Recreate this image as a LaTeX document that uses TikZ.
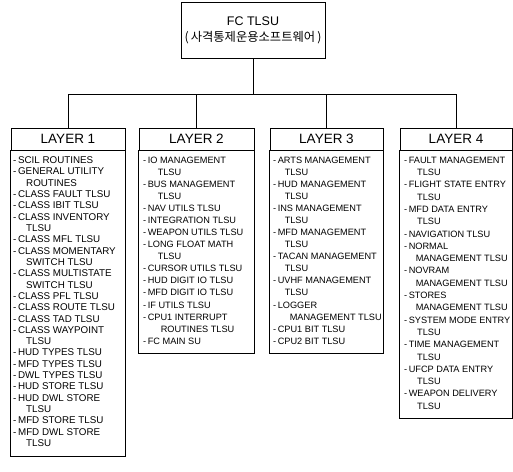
\documentclass[tikz,border=0pt]{standalone}
\usepackage{fontspec}
\setmainfont{Liberation Sans}
\newfontfamily\krfont{Noto Sans CJK KR}
% continuation line of a list entry, indented by the optional amount
\newcommand\cnt[1][13pt]{\hspace*{#1}}
\begin{document}
\begin{tikzpicture}[x=1pt,y=-1pt,
  frame/.style={draw=black,line width=0.9pt},
  headbox/.style={frame,minimum height=22pt,inner sep=0pt,
    font=\fontsize{13.5}{15}\selectfont},
  itemlist/.style={anchor=north west,align=left,inner sep=0pt},
  link/.style={line width=0.9pt}]
\useasboundingbox (0,0) rectangle (513,471);

% root module
\node[frame,minimum width=144pt,minimum height=56pt,inner sep=0pt,align=center,
      font=\fontsize{12.5}{16}\selectfont] (root) at (253,30)
  {FC TLSU\\{\krfont\fontsize{12.3}{16}\selectfont(\,사격통제운용소프트웨어\,)}};

% layer headers
\node[headbox,minimum width=114pt] (L1) at (68,139)    {LAYER 1};
\node[headbox,minimum width=115pt] (L2) at (196.5,139) {LAYER 2};
\node[headbox,minimum width=113pt] (L3) at (326.5,139) {LAYER 3};
\node[headbox,minimum width=112pt] (L4) at (456,139)   {LAYER 4};

% lower corners of the list boxes
\coordinate (B1) at (125,456);
\coordinate (B2) at (254,353);
\coordinate (B3) at (383,353);
\coordinate (B4) at (512,418);
\foreach \i in {1,...,4}{\draw[frame] (L\i.south west) rectangle (B\i);}

% tree connectors
\coordinate (bus) at (253,94);
\draw[link] (root.south) -- (bus);
\draw[link] (L1.north) -- (L1.north |- bus) -- (L4.north |- bus) -- (L4.north);
\draw[link] (L2.north) -- (L2.north |- bus);
\draw[link] (L3.north) -- (L3.north |- bus);

% layer 1 contents
\node[itemlist,font=\fontsize{9.8}{11.32}\selectfont] (T1) at (13,156.5) {%
-\,SCIL ROUTINES\\
-\,GENERAL UTILITY\\
\cnt ROUTINES\\
-\,CLASS FAULT TLSU\\
-\,CLASS IBIT TLSU\\
-\,CLASS INVENTORY\\
\cnt TLSU\\
-\,CLASS MFL TLSU\\
-\,CLASS MOMENTARY\\
\cnt SWITCH TLSU\\
-\,CLASS MULTISTATE\\
\cnt SWITCH TLSU\\
-\,CLASS PFL TLSU\\
-\,CLASS ROUTE TLSU\\
-\,CLASS TAD TLSU\\
-\,CLASS WAYPOINT\\
\cnt TLSU\\
-\,HUD TYPES TLSU\\
-\,MFD TYPES TLSU\\
-\,DWL TYPES TLSU\\
-\,HUD STORE TLSU\\
-\,HUD DWL STORE\\
\cnt TLSU\\
-\,MFD STORE TLSU\\
-\,MFD DWL STORE\\
\cnt TLSU};

% layer 2 contents
\node[itemlist,font=\fontsize{9.2}{12.07}\selectfont] (T2) at (143,156.6) {%
-\,IO MANAGEMENT\\
\cnt[12pt] TLSU\\
-\,BUS MANAGEMENT\\
\cnt[12pt] TLSU\\
-\,NAV UTILS TLSU\\
-\,INTEGRATION TLSU\\
-\,WEAPON UTILS TLSU\\
-\,LONG FLOAT MATH\\
\cnt[12pt] TLSU\\
-\,CURSOR UTILS TLSU\\
-\,HUD DIGIT IO TLSU\\
-\,MFD DIGIT IO TLSU\\
-\,IF UTILS TLSU\\
-\,CPU1 INTERRUPT\\
\cnt[15pt] ROUTINES TLSU\\
-\,FC MAIN SU};

% layer 3 contents
\node[itemlist,font=\fontsize{9.2}{12.07}\selectfont] (T3) at (273,156.6) {%
-\,ARTS MANAGEMENT\\
\cnt[9pt] TLSU\\
-\,HUD MANAGEMENT\\
\cnt[9pt] TLSU\\
-\,INS MANAGEMENT\\
\cnt[9pt] TLSU\\
-\,MFD MANAGEMENT\\
\cnt[9pt] TLSU\\
-\,TACAN MANAGEMENT\\
\cnt[9pt] TLSU\\
-\,UVHF MANAGEMENT\\
\cnt[9pt] TLSU\\
-\,LOGGER\\
\cnt[14pt] MANAGEMENT TLSU\\
-\,CPU1 BIT TLSU\\
-\,CPU2 BIT TLSU};

% layer 4 contents
\node[itemlist,font=\fontsize{9.2}{12.3}\selectfont] (T4) at (404,156.6) {%
-\,FAULT MANAGEMENT\\
\cnt TLSU\\
-\,FLIGHT STATE ENTRY\\
\cnt TLSU\\
-\,MFD DATA ENTRY\\
\cnt TLSU\\
-\,NAVIGATION TLSU\\
-\,NORMAL\\
\cnt[9pt] MANAGEMENT TLSU\\
-\,NOVRAM\\
\cnt[9pt] MANAGEMENT TLSU\\
-\,STORES\\
\cnt[9pt] MANAGEMENT TLSU\\
-\,SYSTEM MODE ENTRY\\
\cnt TLSU\\
-\,TIME MANAGEMENT\\
\cnt TLSU\\
-\,UFCP DATA ENTRY\\
\cnt TLSU\\
-\,WEAPON DELIVERY\\
\cnt TLSU};
\end{tikzpicture}
\end{document}
